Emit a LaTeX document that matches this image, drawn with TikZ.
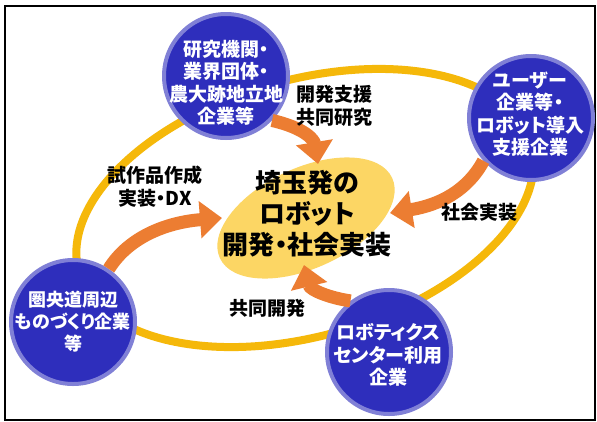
\documentclass[tikz,border=0pt]{standalone}
\usepackage{fontspec}
\setmainfont[RawFeature=+palt]{Noto Sans CJK JP}
\usetikzlibrary{arrows.meta,shapes.geometric}
\definecolor{ringyellow}{RGB}{245,184,10}
\definecolor{coreyellow}{RGB}{252,214,100}
\definecolor{bluefill}{RGB}{46,46,188}
\definecolor{blueedge}{RGB}{128,128,214}
\definecolor{arrorange}{RGB}{236,125,50}
\tikzset{
  actor/.style={circle, fill=bluefill, draw=blueedge, line width=4pt, minimum size=124pt, inner sep=0pt},
  actortext/.style={text=white, font=\fontsize{19}{22.5}\selectfont\bfseries, align=center, inner sep=0pt},
  lbl/.style={text=black, font=\fontsize{19}{23}\selectfont\bfseries, align=center, inner sep=0pt},
  flow/.style={draw=arrorange, line width=13pt, -{Triangle[length=22pt, width=36pt]}},
}
\begin{document}
\begin{tikzpicture}[x=1pt, y=-1pt]
\useasboundingbox (0,0) rectangle (597,421);
\fill[white] (0,0) rectangle (597,421);
\draw[black, line width=1.6pt] (5,6) -- (595,6) -- (595,420) -- (5,420) -- cycle;
% ring
\node[draw=ringyellow, line width=8pt, ellipse, minimum width=470pt, minimum height=256pt, rotate=16, inner sep=0pt] (ring) at (305,208) {};
% core
\node[fill=coreyellow, ellipse, minimum width=190pt, minimum height=100pt, rotate=25, inner sep=0pt] (core) at (306,218) {};
% tips
\coordinate (t1) at (318,164);
\coordinate (t2) at (390,213);
\coordinate (t3) at (222,218);
\coordinate (t4) at (304,265);
% circles
\node[actor] (top) at (226,76) {};
\node[actor] (right) at (531,118) {};
\node[actor] (left) at (73,322) {};
\node[actor] (bot) at (389,352) {};
% arrows
\draw[flow] (top.-44) .. controls (305,128) and (314,140) .. (t1);
\draw[flow] (right.-138) .. controls (468,190) and (440,205) .. (t2);
\draw[flow] (left.56) .. controls (130,235) and (170,222) .. (t3);
\draw[flow] (bot.127) .. controls (330,298) and (310,290) .. (t4);
% texts
\node[actortext] (toptext) at (226,83) {研究機関・\\業界団体・\\農大跡地立地\\企業等};
\node[actortext] (righttext) at (530,114) {ユーザー\\企業等・\\ロボット導入\\支援企業};
\node[actortext, font=\fontsize{18}{22}\selectfont\bfseries] (lefttext) at (73,322) {圏央道周辺\\ものづくり企業\\等};
\node[actortext] (bottext) at (388,355) {ロボティクス\\センター利用\\企業};
\node[text=black, font=\fontsize{26}{31}\selectfont\bfseries, align=center, inner sep=0pt] (coretext) at (307,214) {埼玉発の\\ロボット\\開発・社会実装};
\node[lbl] (l1) at (334,106) {開発支援\\共同研究};
\node[lbl] (l2) at (155,187) {試作品作成\\実装・DX};
\node[lbl] (l3) at (479,212) {社会実装};
\node[lbl] (l4) at (267,308) {共同開発};
\end{tikzpicture}
\end{document}
